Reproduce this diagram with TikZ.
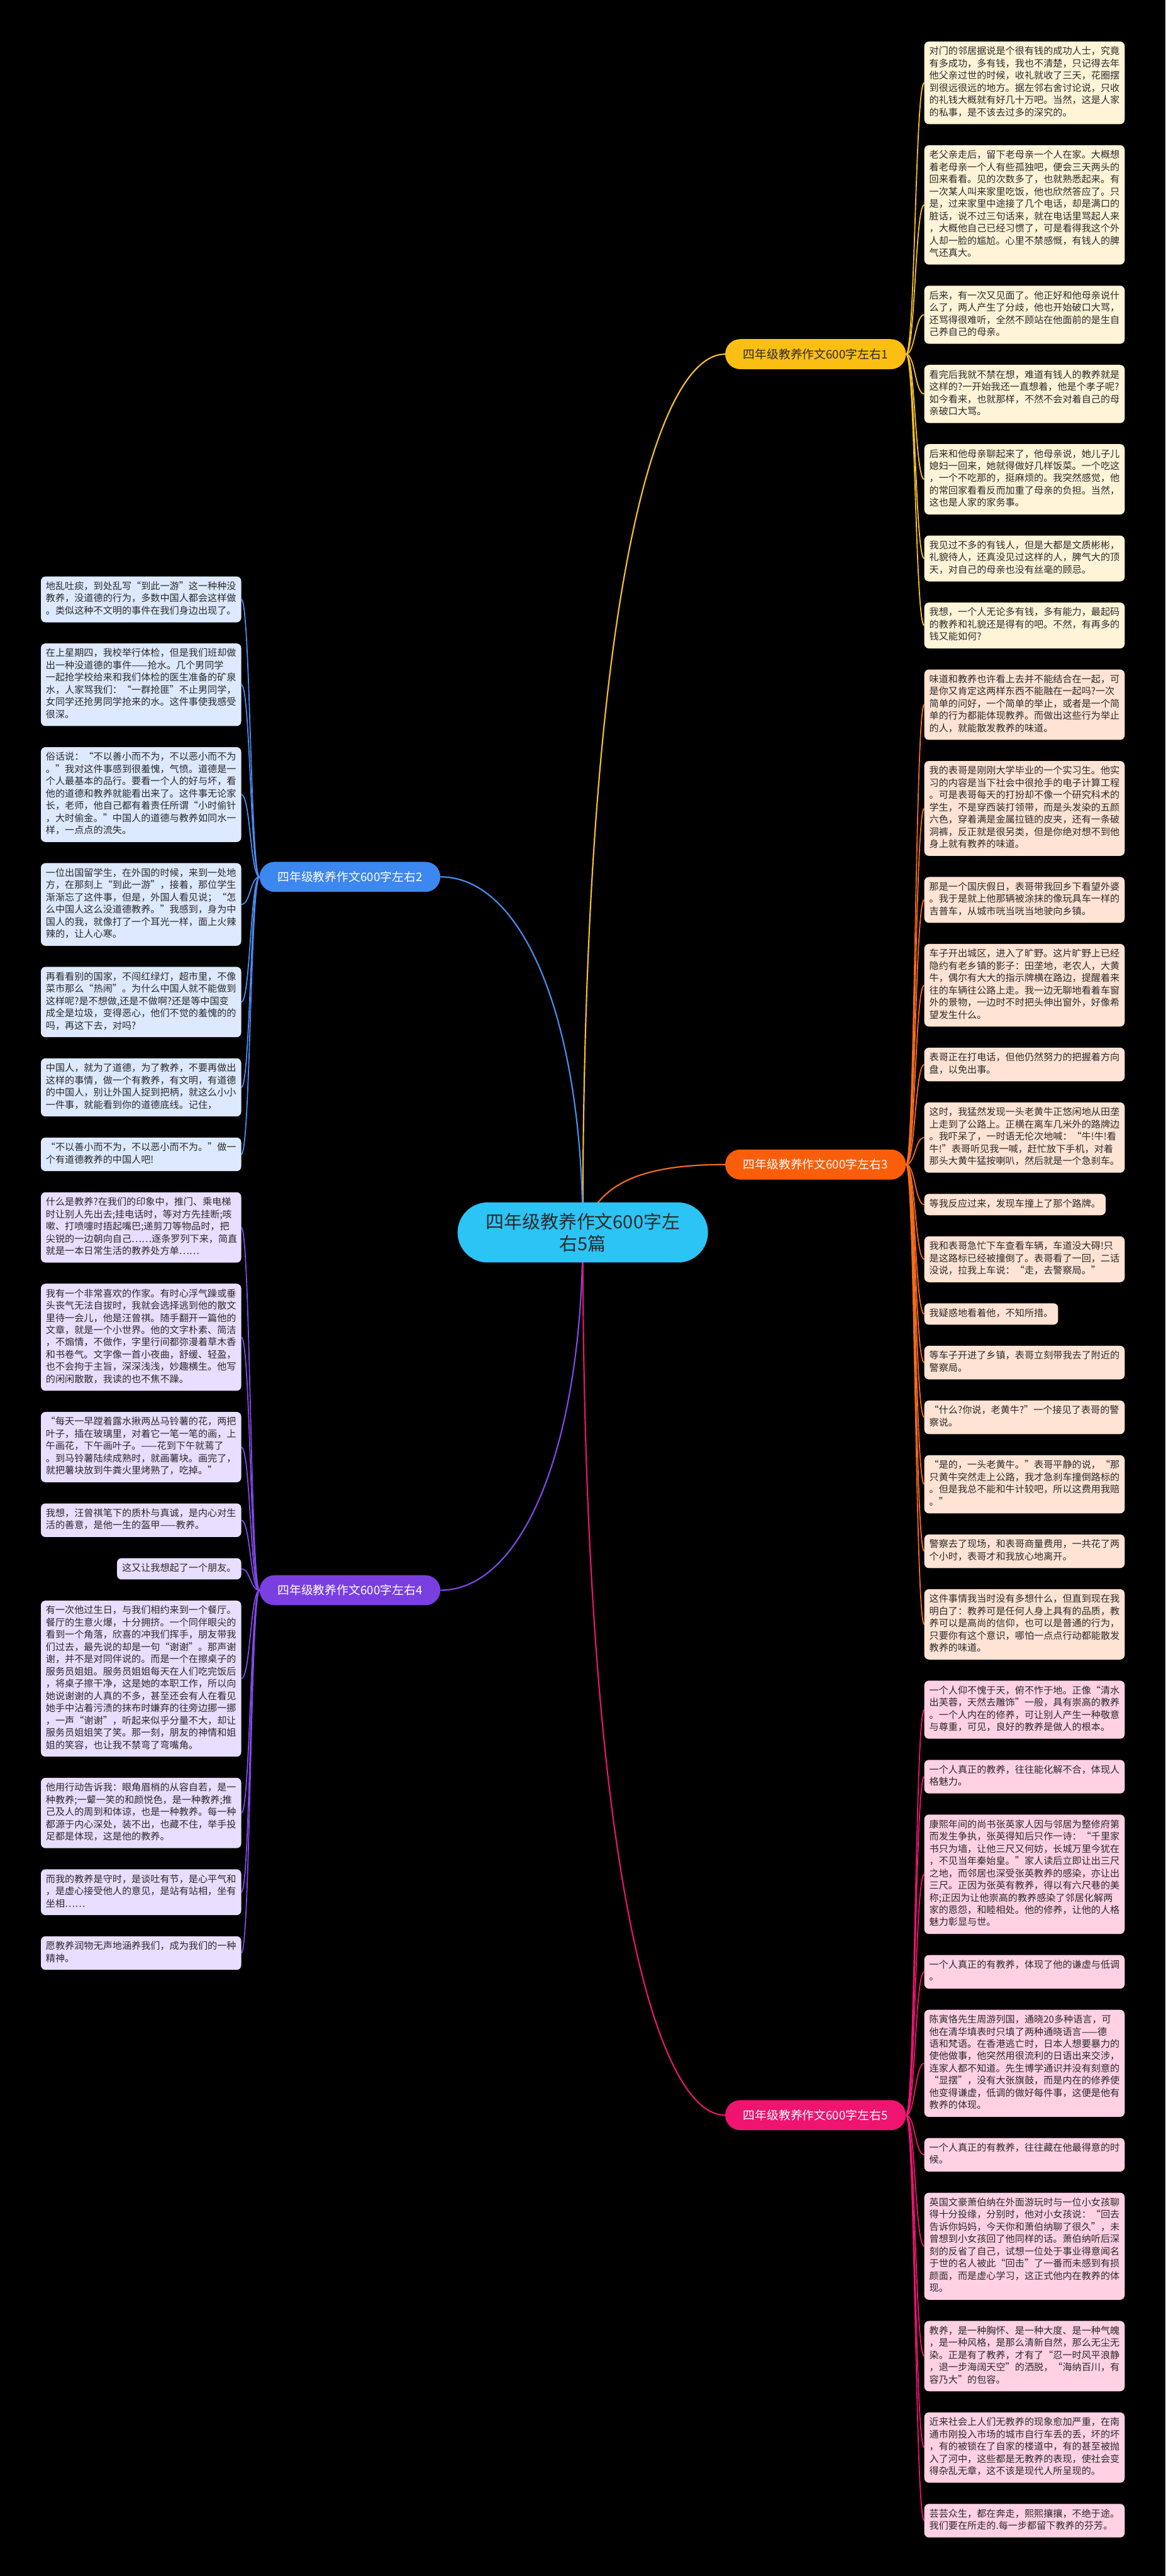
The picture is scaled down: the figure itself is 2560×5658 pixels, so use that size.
\documentclass[tikz,border=0pt]{standalone}
\usepackage{fontspec}
\newfontfamily\cjkfont{Noto Sans CJK SC}
\usetikzlibrary{positioning,calc,backgrounds}

\definecolor{inkdark}{HTML}{2A2A2A}
\definecolor{rootfill}{HTML}{2CC4F4}
\definecolor{lineY}{HTML}{F5C02A}
\definecolor{lineB}{HTML}{4A8CF0}
\definecolor{lineO}{HTML}{F26B1D}
\definecolor{lineV}{HTML}{8049E6}
\definecolor{lineP}{HTML}{E8166E}
\definecolor{labelY}{HTML}{FBBF14}
\definecolor{labelB}{HTML}{3C87F0}
\definecolor{labelO}{HTML}{FB5E0A}
\definecolor{labelV}{HTML}{7A3FE0}
\definecolor{labelP}{HTML}{EE1470}
\definecolor{fillY}{HTML}{FFF4D8}
\definecolor{fillB}{HTML}{DDE9FF}
\definecolor{fillO}{HTML}{FFE3D4}
\definecolor{fillV}{HTML}{E8DEFF}
\definecolor{fillP}{HTML}{FFD1E3}

\newcommand\leafstrut{\rule[-8.1pt]{0pt}{26.9pt}}
\newcommand\leaffont{\cjkfont\fontsize{20.9pt}{26.9pt}\selectfont}

\tikzset{
  leafbase/.style={rounded corners=10pt, inner xsep=11pt, inner ysep=10pt, align=left,
    font=\leaffont, text=inkdark, execute at begin node=\leafstrut, execute at end node=\leafstrut},
  leafY/.style={leafbase, fill=fillY, text width=418pt},
  leafB/.style={leafbase, fill=fillB, text width=418pt},
  leafO/.style={leafbase, fill=fillO, text width=418pt},
  leafV/.style={leafbase, fill=fillV, text width=418pt},
  leafP/.style={leafbase, fill=fillP, text width=418pt},
  branchbox/.style={rounded corners=33pt, minimum width=397pt, minimum height=66pt, inner sep=0pt,
    font=\cjkfont\fontsize{26pt}{30pt}\selectfont},
  rootbox/.style={fill=rootfill, rounded corners=66pt, minimum width=550pt, minimum height=132pt,
    align=center, text=inkdark, font=\cjkfont\fontsize{40pt}{49pt}\selectfont},
  trunkline/.style={line width=3pt},
  twigline/.style={line width=2.5pt},
}

\begin{document}
\begin{tikzpicture}[x=1pt,y=-1pt]
\useasboundingbox (0,0) rectangle (2560,5658);

% right column: essay 1
\node[leafY, anchor=north west] (r1) at (2030,91) {对门的邻居据说是个很有钱的成功人士，究竟\\有多成功，多有钱，我也不清楚，只记得去年\\他父亲过世的时候，收礼就收了三天，花圈摆\\到很远很远的地方。据左邻右舍讨论说，只收\\的礼钱大概就有好几十万吧。当然，这是人家\\的私事，是不该去过多的深究的。};
\node[leafY, below=46pt of r1.south west, anchor=north west] (r2) {老父亲走后，留下老母亲一个人在家。大概想\\着老母亲一个人有些孤独吧，便会三天两头的\\回来看看。见的次数多了，也就熟悉起来。有\\一次某人叫来家里吃饭，他也欣然答应了。只\\是，过来家里中途接了几个电话，却是满口的\\脏话，说不过三句话来，就在电话里骂起人来\\，大概他自己已经习惯了，可是看得我这个外\\人却一脸的尴尬。心里不禁感慨，有钱人的脾\\气还真大。};
\node[leafY, below=46pt of r2.south west, anchor=north west] (r3) {后来，有一次又见面了。他正好和他母亲说什\\么了，两人产生了分歧，他也开始破口大骂，\\还骂得很难听，全然不顾站在他面前的是生自\\己养自己的母亲。};
\node[leafY, below=46pt of r3.south west, anchor=north west] (r4) {看完后我就不禁在想，难道有钱人的教养就是\\这样的?一开始我还一直想着，他是个孝子呢?\\如今看来，也就那样，不然不会对着自己的母\\亲破口大骂。};
\node[leafY, below=46pt of r4.south west, anchor=north west] (r5) {后来和他母亲聊起来了，他母亲说，她儿子儿\\媳妇一回来，她就得做好几样饭菜。一个吃这\\，一个不吃那的，挺麻烦的。我突然感觉，他\\的常回家看看反而加重了母亲的负担。当然，\\这也是人家的家务事。};
\node[leafY, below=46pt of r5.south west, anchor=north west] (r6) {我见过不多的有钱人，但是大都是文质彬彬，\\礼貌待人，还真没见过这样的人，脾气大的顶\\天，对自己的母亲也没有丝毫的顾忌。};
\node[leafY, below=46pt of r6.south west, anchor=north west] (r7) {我想，一个人无论多有钱，多有能力，最起码\\的教养和礼貌还是得有的吧。不然，有再多的\\钱又能如何?};

% right column: essay 3
\node[leafO, below=46pt of r7.south west, anchor=north west] (o1) {味道和教养也许看上去并不能结合在一起，可\\是你又肯定这两样东西不能融在一起吗?一次\\简单的问好，一个简单的举止，或者是一个简\\单的行为都能体现教养。而做出这些行为举止\\的人，就能散发教养的味道。};
\node[leafO, below=46pt of o1.south west, anchor=north west] (o2) {我的表哥是刚刚大学毕业的一个实习生。他实\\习的内容是当下社会中很抢手的电子计算工程\\。可是表哥每天的打扮却不像一个研究科术的\\学生，不是穿西装打领带，而是头发染的五颜\\六色，穿着满是金属拉链的皮夹，还有一条破\\洞裤，反正就是很另类，但是你绝对想不到他\\身上就有教养的味道。};
\node[leafO, below=46pt of o2.south west, anchor=north west] (o3) {那是一个国庆假日，表哥带我回乡下看望外婆\\。我于是就上他那辆被涂抹的像玩具车一样的\\吉普车，从城市咣当咣当地驶向乡镇。};
\node[leafO, below=46pt of o3.south west, anchor=north west] (o4) {车子开出城区，进入了旷野。这片旷野上已经\\隐约有老乡镇的影子：田垄地，老农人，大黄\\牛，偶尔有大大的指示牌横在路边，提醒着来\\往的车辆往公路上走。我一边无聊地看着车窗\\外的景物，一边时不时把头伸出窗外，好像希\\望发生什么。};
\node[leafO, below=46pt of o4.south west, anchor=north west] (o5) {表哥正在打电话，但他仍然努力的把握着方向\\盘，以免出事。};
\node[leafO, below=46pt of o5.south west, anchor=north west] (o6) {这时，我猛然发现一头老黄牛正悠闲地从田垄\\上走到了公路上。正横在离车几米外的路牌边\\。我吓呆了，一时语无伦次地喊：“牛!牛!看\\牛!”表哥听见我一喊，赶忙放下手机，对着\\那头大黄牛猛按喇叭，然后就是一个急刹车。};
\node[leafbase, fill=fillO, below=46pt of o6.south west, anchor=north west] (o7) {等我反应过来，发现车撞上了那个路牌。};
\node[leafO, below=46pt of o7.south west, anchor=north west] (o8) {我和表哥急忙下车查看车辆，车道没大碍!只\\是这路标已经被撞倒了。表哥看了一回，二话\\没说，拉我上车说：“走，去警察局。”};
\node[leafbase, fill=fillO, below=46pt of o8.south west, anchor=north west] (o9) {我疑惑地看着他，不知所措。};
\node[leafO, below=46pt of o9.south west, anchor=north west] (o10) {等车子开进了乡镇，表哥立刻带我去了附近的\\警察局。};
\node[leafO, below=46pt of o10.south west, anchor=north west] (o11) {“什么?你说，老黄牛?”一个接见了表哥的警\\察说。};
\node[leafO, below=46pt of o11.south west, anchor=north west] (o12) {“是的，一头老黄牛。”表哥平静的说，“那\\只黄牛突然走上公路，我才急刹车撞倒路标的\\。但是我总不能和牛计较吧，所以这费用我赔\\。”};
\node[leafO, below=46pt of o12.south west, anchor=north west] (o13) {警察去了现场，和表哥商量费用，一共花了两\\个小时，表哥才和我放心地离开。};
\node[leafO, below=46pt of o13.south west, anchor=north west] (o14) {这件事情我当时没有多想什么，但直到现在我\\明白了：教养可是任何人身上具有的品质，教\\养可以是高尚的信仰，也可以是普通的行为，\\只要你有这个意识，哪怕一点点行动都能散发\\教养的味道。};

% right column: essay 5
\node[leafP, below=46pt of o14.south west, anchor=north west] (p1) {一个人仰不愧于天，俯不怍于地。正像“清水\\出芙蓉，天然去雕饰”一般，具有崇高的教养\\。一个人内在的修养，可让别人产生一种敬意\\与尊重，可见，良好的教养是做人的根本。};
\node[leafP, below=46pt of p1.south west, anchor=north west] (p2) {一个人真正的教养，往往能化解不合，体现人\\格魅力。};
\node[leafP, below=46pt of p2.south west, anchor=north west] (p3) {康熙年间的尚书张英家人因与邻居为整修府第\\而发生争执，张英得知后只作一诗：“千里家\\书只为墙，让他三尺又何妨，长城万里今犹在\\，不见当年秦始皇。”家人读后立即让出三尺\\之地，而邻居也深受张英教养的感染，亦让出\\三尺。正因为张英有教养，得以有六尺巷的美\\称;正因为让他崇高的教养感染了邻居化解两\\家的恩怨，和睦相处。他的修养，让他的人格\\魅力彰显与世。};
\node[leafP, below=46pt of p3.south west, anchor=north west] (p4) {一个人真正的有教养，体现了他的谦虚与低调\\。};
\node[leafP, below=46pt of p4.south west, anchor=north west] (p5) {陈寅恪先生周游列国，通晓20多种语言，可\\他在清华填表时只填了两种通晓语言——德\\语和梵语。在香港逃亡时，日本人想要暴力的\\使他做事，他突然用很流利的日语出来交涉，\\连家人都不知道。先生博学通识并没有刻意的\\“显摆”，没有大张旗鼓，而是内在的修养使\\他变得谦虚，低调的做好每件事，这便是他有\\教养的体现。};
\node[leafP, below=46pt of p5.south west, anchor=north west] (p6) {一个人真正的有教养，往往藏在他最得意的时\\候。};
\node[leafP, below=46pt of p6.south west, anchor=north west] (p7) {英国文豪萧伯纳在外面游玩时与一位小女孩聊\\得十分投缘，分别时，他对小女孩说：“回去\\告诉你妈妈，今天你和萧伯纳聊了很久”，未\\曾想到小女孩回了他同样的话。萧伯纳听后深\\刻的反省了自己，试想一位处于事业得意闻名\\于世的名人被此“回击”了一番而未感到有损\\颜面，而是虚心学习，这正式他内在教养的体\\现。};
\node[leafP, below=46pt of p7.south west, anchor=north west] (p8) {教养，是一种胸怀、是一种大度、是一种气魄\\，是一种风格，是那么清新自然，那么无尘无\\染。正是有了教养，才有了“忍一时风平浪静\\，退一步海阔天空”的洒脱，“海纳百川，有\\容乃大”的包容。};
\node[leafP, below=46pt of p8.south west, anchor=north west] (p9) {近来社会上人们无教养的现象愈加严重，在南\\通市刚投入市场的城市自行车丢的丢，坏的坏\\，有的被锁在了自家的楼道中，有的甚至被抛\\入了河中，这些都是无教养的表现，使社会变\\得杂乱无章，这不该是现代人所呈现的。};
\node[leafP, below=46pt of p9.south west, anchor=north west] (p10) {芸芸众生，都在奔走，熙熙攘攘，不绝于途。\\我们要在所走的.每一步都留下教养的芬芳。};

% left column: essay 2
\node[leafB, anchor=north east] (l1) at (530,1266) {地乱吐痰，到处乱写“到此一游”这一种种没\\教养，没道德的行为，多数中国人都会这样做\\。类似这种不文明的事件在我们身边出现了。};
\node[leafB, below=46pt of l1.south east, anchor=north east] (l2) {在上星期四，我校举行体检，但是我们班却做\\出一种没道德的事件——抢水。几个男同学\\一起抢学校给来和我们体检的医生准备的矿泉\\水，人家骂我们：“一群抢匪”不止男同学，\\女同学还抢男同学抢来的水。这件事使我感受\\很深。};
\node[leafB, below=46pt of l2.south east, anchor=north east] (l3) {俗话说：“不以善小而不为，不以恶小而不为\\。”我对这件事感到很羞愧，气愤。道德是一\\个人最基本的品行。要看一个人的好与坏，看\\他的道德和教养就能看出来了。这件事无论家\\长，老师，他自己都有着责任所谓“小时偷针\\，大时偷金。”中国人的道德与教养如同水一\\样，一点点的流失。};
\node[leafB, below=46pt of l3.south east, anchor=north east] (l4) {一位出国留学生，在外国的时候，来到一处地\\方，在那刻上“到此一游”，接着，那位学生\\渐渐忘了这件事，但是，外国人看见说；“怎\\么中国人这么没道德教养。”我感到，身为中\\国人的我，就像打了一个耳光一样，面上火辣\\辣的，让人心寒。};
\node[leafB, below=46pt of l4.south east, anchor=north east] (l5) {再看看别的国家，不闯红绿灯，超市里，不像\\菜市那么“热闹”。为什么中国人就不能做到\\这样呢?是不想做,还是不做啊?还是等中国变\\成全是垃圾，变得恶心，他们不觉的羞愧的的\\吗，再这下去，对吗?};
\node[leafB, below=46pt of l5.south east, anchor=north east] (l6) {中国人，就为了道德，为了教养，不要再做出\\这样的事情，做一个有教养，有文明，有道德\\的中国人，别让外国人捉到把柄，就这么小小\\一件事，就能看到你的道德底线。记住，};
\node[leafB, below=46pt of l6.south east, anchor=north east] (l7) {“不以善小而不为，不以恶小而不为。”做一\\个有道德教养的中国人吧!};

% left column: essay 4
\node[leafV, below=46pt of l7.south east, anchor=north east] (v1) {什么是教养?在我们的印象中，推门、乘电梯\\时让别人先出去;挂电话时，等对方先挂断;咳\\嗽、打喷嚏时捂起嘴巴;递剪刀等物品时，把\\尖锐的一边朝向自己……逐条罗列下来，简直\\就是一本日常生活的教养处方单……};
\node[leafV, below=46pt of v1.south east, anchor=north east] (v2) {我有一个非常喜欢的作家。有时心浮气躁或垂\\头丧气无法自拔时，我就会选择逃到他的散文\\里待一会儿，他是汪曾祺。随手翻开一篇他的\\文章，就是一个小世界。他的文字朴素、简洁\\，不煽情，不做作，字里行间都弥漫着草木香\\和书卷气。文字像一首小夜曲，舒缓、轻盈，\\也不会拘于主旨，深深浅浅，妙趣横生。他写\\的闲闲散散，我读的也不焦不躁。};
\node[leafV, below=46pt of v2.south east, anchor=north east] (v3) {“每天一早蹚着露水揪两丛马铃薯的花，两把\\叶子，插在玻璃里，对着它一笔一笔的画，上\\午画花，下午画叶子。——花到下午就蔫了\\。到马铃薯陆续成熟时，就画薯块。画完了，\\就把薯块放到牛粪火里烤熟了，吃掉。”};
\node[leafV, below=46pt of v3.south east, anchor=north east] (v4) {我想，汪曾祺笔下的质朴与真诚，是内心对生\\活的善意，是他一生的盔甲——教养。};
\node[leafbase, fill=fillV, below=46pt of v4.south east, anchor=north east] (v5) {这又让我想起了一个朋友。};
\node[leafV, below=46pt of v5.south east, anchor=north east] (v6) {有一次他过生日，与我们相约来到一个餐厅。\\餐厅的生意火爆，十分拥挤。一个同伴眼尖的\\看到一个角落，欣喜的冲我们挥手，朋友带我\\们过去，最先说的却是一句“谢谢”。那声谢\\谢，并不是对同伴说的。而是一个在擦桌子的\\服务员姐姐。服务员姐姐每天在人们吃完饭后\\，将桌子擦干净，这是她的本职工作，所以向\\她说谢谢的人真的不多，甚至还会有人在看见\\她手中沾着污渍的抹布时嫌弃的往旁边挪一挪\\，一声“谢谢”，听起来似乎分量不大，却让\\服务员姐姐笑了笑。那一刻，朋友的神情和姐\\姐的笑容，也让我不禁弯了弯嘴角。};
\node[leafV, below=46pt of v6.south east, anchor=north east] (v7) {他用行动告诉我：眼角眉梢的从容自若，是一\\种教养;一颦一笑的和颜悦色，是一种教养;推\\己及人的周到和体谅，也是一种教养。每一种\\都源于内心深处，装不出，也藏不住，举手投\\足都是体现，这是他的教养。};
\node[leafV, below=46pt of v7.south east, anchor=north east] (v8) {而我的教养是守时，是谈吐有节，是心平气和\\，是虚心接受他人的意见，是站有站相，坐有\\坐相……};
\node[leafV, below=46pt of v8.south east, anchor=north east] (v9) {愿教养润物无声地涵养我们，成为我们的一种\\精神。};

% branch labels, centred on their leaves
\node[branchbox, fill=labelY, text=inkdark, anchor=east] (b1) at ($(r1.west)!.5!(r7.west)+(-40,0)$) {四年级教养作文600字左右1};
\node[branchbox, fill=labelB, text=white, anchor=west] (b2) at ($(l1.east)!.5!(l7.east)+(40,0)$) {四年级教养作文600字左右2};
\node[branchbox, fill=labelO, text=white, anchor=east] (b3) at ($(o1.west)!.5!(o14.west)+(-40,0)$) {四年级教养作文600字左右3};
\node[branchbox, fill=labelV, text=white, anchor=west] (b4) at ($(v1.east)!.5!(v9.east)+(40,0)$) {四年级教养作文600字左右4};
\node[branchbox, fill=labelP, text=white, anchor=east] (b5) at ($(p1.west)!.5!(p10.west)+(-40,0)$) {四年级教养作文600字左右5};

\node[rootbox] (root) at (1280,2707) {四年级教养作文600字左\\右5篇};

\begin{pgfonlayer}{background}
\fill[black] (0,0) rectangle (2560,5658);
% root to branches
\draw[trunkline, draw=lineY] (root.center) .. controls +(0,-1400) and +(-150,0) .. (b1.west);
\draw[trunkline, draw=lineB] (root.center) .. controls +(0,-470) and +(180,0) .. (b2.east);
\draw[trunkline, draw=lineO] (root.center) .. controls +(30,-100) and +(-200,0) .. (b3.west);
\draw[trunkline, draw=lineV] (root.center) .. controls +(0,470) and +(180,0) .. (b4.east);
\draw[trunkline, draw=lineP] (root.center) .. controls +(0,1400) and +(-150,0) .. (b5.west);
% branches to leaves
\foreach \i in {1,...,7}
  \draw[twigline, draw=lineY] (b1.east) .. controls +(20,0) and +(-20,0) .. (r\i.west);
\foreach \i in {1,...,14}
  \draw[twigline, draw=lineO] (b3.east) .. controls +(20,0) and +(-20,0) .. (o\i.west);
\foreach \i in {1,...,10}
  \draw[twigline, draw=lineP] (b5.east) .. controls +(20,0) and +(-20,0) .. (p\i.west);
\foreach \i in {1,...,7}
  \draw[twigline, draw=lineB] (b2.west) .. controls +(-20,0) and +(20,0) .. (l\i.east);
\foreach \i in {1,...,9}
  \draw[twigline, draw=lineV] (b4.west) .. controls +(-20,0) and +(20,0) .. (v\i.east);
\end{pgfonlayer}
\end{tikzpicture}
\end{document}
